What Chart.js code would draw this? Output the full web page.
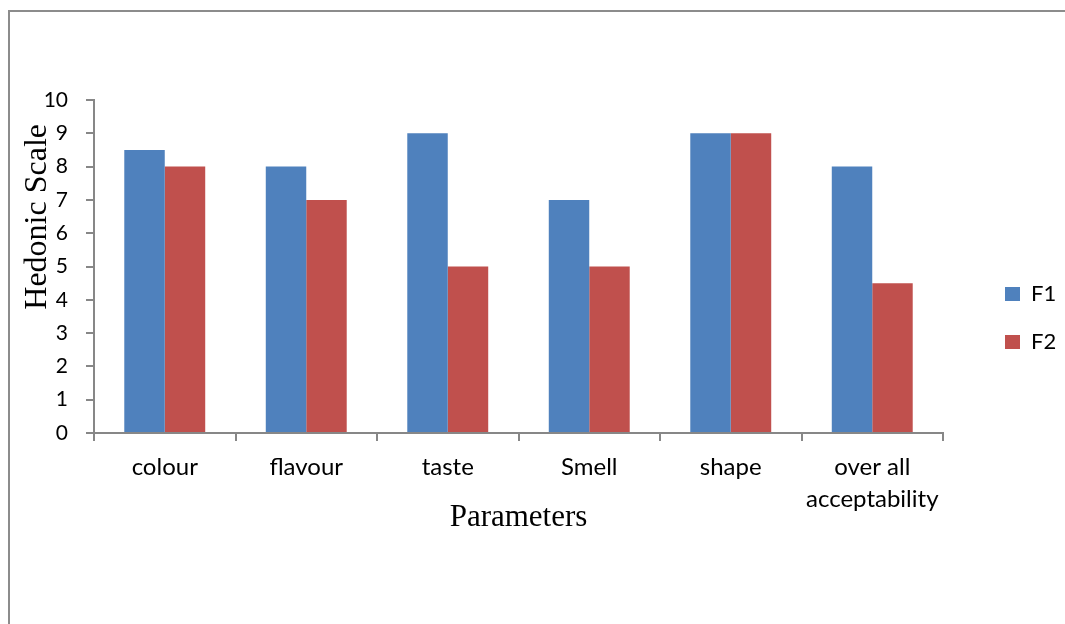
<!DOCTYPE html>
<html>
<head>
<meta charset="utf-8">
<script src="https://cdn.jsdelivr.net/npm/chart.js@4"></script>
<style>
    html, body { margin: 0; padding: 0; background: #ffffff; overflow: hidden; }
    #frame {
        position: absolute; left: 8px; top: 10px; width: 1200px; height: 800px;
        border-left: 2px solid #8c8c8c; border-top: 2px solid #8c8c8c;
    }
    #chart { position: absolute; left: 0; top: 0; }
</style>
</head>
<body>
<div id="frame"></div>
<canvas id="chart" width="1065" height="624"></canvas>
<script>
const categories = ["colour", "flavour", "taste", "Smell", "shape", ["over all", "acceptability"]];
const f1Values = [8.5, 8, 9, 7, 9, 8];
const f2Values = [8, 7, 5, 5, 9, 4.5];
const yTicks = [0, 1, 2, 3, 4, 5, 6, 7, 8, 9, 10];

const axisGray = "#878787";

// fixed legend width, then push the legend right of the plot
const legendPlace = {
    id: "legendPlace",
    afterInit(chart) {
        const lg = chart.legend;
        const fit = lg.fit;
        lg.fit = function () {
            fit.call(this);
            this.width = 122;
        };
    },
    afterLayout(chart) {
        const lg = chart.legend;
        lg.left += 36;
        lg.right += 36;
    }
};

const ctx = document.getElementById("chart").getContext("2d");

new Chart(ctx, {
    type: "bar",
    data: {
        labels: categories,
        datasets: [
            {
                label: "F1",
                data: f1Values,
                backgroundColor: "#4F81BD",
                barPercentage: 1,
                categoryPercentage: 0.572
            },
            {
                label: "F2",
                data: f2Values,
                backgroundColor: "#C0504D",
                barPercentage: 1,
                categoryPercentage: 0.572
            }
        ]
    },
    options: {
        responsive: false,
        animation: false,
        layout: {
            padding: { left: 8, top: 100, bottom: 88, right: 0 }
        },
        scales: {
            x: {
                afterFit(scale) { scale.height = 103; },
                grid: {
                    drawOnChartArea: false,
                    drawTicks: true,
                    tickLength: 8,
                    color: axisGray,
                    lineWidth: 2
                },
                border: { color: axisGray, width: 2 },
                ticks: {
                    color: "#000000",
                    padding: 10,
                    maxRotation: 0,
                    autoSkip: false,
                    font: { family: "Lato", size: 24, lineHeight: 1.33 }
                },
                title: {
                    display: true,
                    text: "Parameters",
                    color: "#000000",
                    padding: { top: 0, bottom: 0 },
                    font: { family: "Liberation Serif", size: 31, lineHeight: 1.2 }
                }
            },
            y: {
                min: 0,
                max: 10,
                afterFit(scale) { scale.width = 86; },
                afterBuildTicks(scale) {
                    scale.ticks = yTicks.map(v => ({ value: v }));
                },
                grid: {
                    drawOnChartArea: false,
                    drawTicks: true,
                    tickLength: 8,
                    color: axisGray,
                    lineWidth: 2
                },
                border: { color: axisGray, width: 2 },
                ticks: {
                    color: "#000000",
                    padding: 18,
                    font: { family: "Lato", size: 21 }
                },
                title: {
                    display: true,
                    text: "Hedonic Scale\u00a0\u00a0\u00a0",
                    align: "end",
                    color: "#000000",
                    padding: { top: 10, bottom: 0 },
                    font: { family: "Liberation Serif", size: 32, lineHeight: 1.2 }
                }
            }
        },
        plugins: {
            legend: {
                position: "right",
                labels: {
                    color: "#000000",
                    boxWidth: 15,
                    boxHeight: 14,
                    padding: 26,
                    font: { family: "Lato", size: 22 }
                }
            },
            tooltip: { enabled: false }
        }
    },
    plugins: [legendPlace]
});
</script>
</body>
</html>
